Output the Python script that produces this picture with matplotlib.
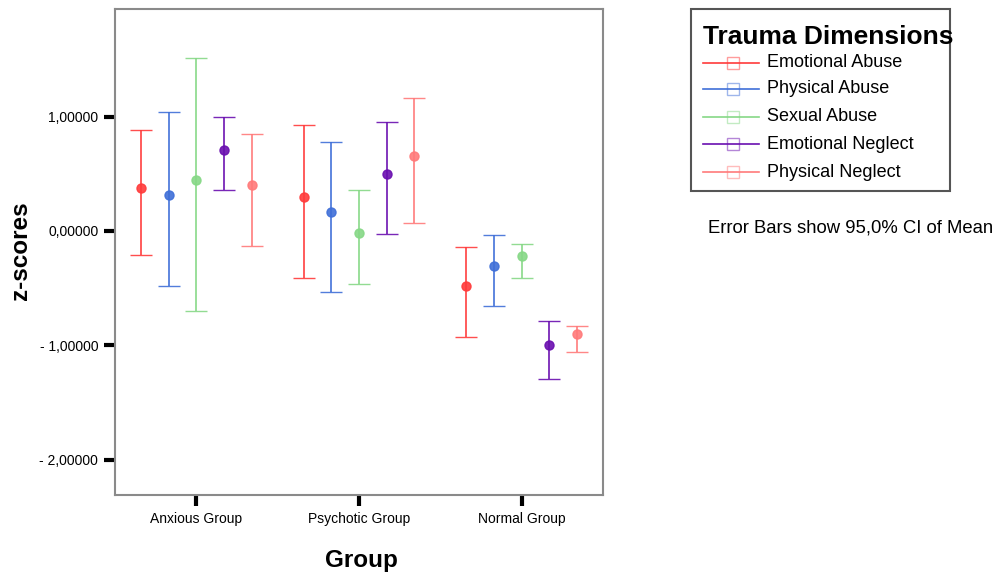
import matplotlib
matplotlib.use("Agg")
import matplotlib.pyplot as plt
from matplotlib.lines import Line2D
from matplotlib.patches import Rectangle
import numpy as np

plt.rcParams['font.family'] = ['Liberation Sans', 'DejaVu Sans']

groups = ["Anxious Group", "Psychotic Group", "Normal Group"]
series = ["Emotional Abuse", "Physical Abuse", "Sexual Abuse", "Emotional Neglect", "Physical Neglect"]
colors = ["#FF3B3B", "#3F6FD8", "#86D886", "#6A0FB0", "#FF7A7A"]

means = {
    "Emotional Abuse":   [0.379, 0.300, -0.481],
    "Physical Abuse":    [0.315, 0.169, -0.303],
    "Sexual Abuse":      [0.446, -0.017, -0.216],
    "Emotional Neglect": [0.711, 0.499, -0.997],
    "Physical Neglect":  [0.405, 0.659, -0.898],
}
upper = {
    "Emotional Abuse":   [0.881, 0.925, -0.140],
    "Physical Abuse":    [1.044, 0.776, -0.038],
    "Sexual Abuse":      [1.511, 0.359, -0.111],
    "Emotional Neglect": [0.997, 0.951, -0.787],
    "Physical Neglect":  [0.846, 1.161, -0.834],
}
lower = {
    "Emotional Abuse":   [-0.213, -0.408, -0.925],
    "Physical Abuse":    [-0.481, -0.537, -0.656],
    "Sexual Abuse":      [-0.697, -0.464, -0.408],
    "Emotional Neglect": [0.359, -0.023, -1.292],
    "Physical Neglect":  [-0.128, 0.067, -1.059],
}
yticks = [1.0, 0.0, -1.0, -2.0]
ytick_labels = ["1,00000", "0,00000", "- 1,00000", "- 2,00000"]

W, H = 1002, 574
fig = plt.figure(figsize=(W / 100, H / 100), dpi=100)
ax = fig.add_axes([115 / W, 1 - 495 / H, (603 - 115) / W, (495 - 9) / H])

xbase = np.arange(1, len(groups) + 1)
offsets = np.linspace(-0.34, 0.34, len(series))
for s, c, off in zip(series, colors, offsets):
    m = np.array(means[s]); u = np.array(upper[s]); l = np.array(lower[s])
    ax.errorbar(xbase + off, m, yerr=[m - l, u - m], fmt='o', color=c,
                ecolor=c, elinewidth=1.3, capsize=8, capthick=1.3,
                markersize=6.5, markeredgewidth=1.0, alpha=0.9)

ax.set_xlim(0.5, 3.5)
ax.set_ylim(-2.31, 1.942)
ax.set_xticks(xbase)
ax.set_xticklabels(groups, fontsize=10)
ax.set_yticks(yticks)
ax.set_yticklabels(ytick_labels, fontsize=10)
ax.tick_params(axis='both', direction='out', length=8, width=3, color='black', pad=4)
for sp in ax.spines.values():
    sp.set_color('#8a8a8a')
    sp.set_linewidth(1.5)

fig.text(361 / W, 1 - 560 / H, "Group", fontsize=17.5, fontweight='bold', ha='center', va='center')
fig.text(21 / W, 1 - 251 / H, "z-scores", fontsize=17.5, fontweight='bold', rotation=90, ha='center', va='center')

# legend drawn manually
lx0, lx1, ly0, ly1 = 691, 950, 9, 191
fig.patches.append(Rectangle((lx0 / W, 1 - ly1 / H), (lx1 - lx0) / W, (ly1 - ly0) / H,
                             transform=fig.transFigure, fill=False, edgecolor='#555555', linewidth=1.5))
fig.text(703 / W, 1 - 37 / H, "Trauma Dimensions", fontsize=19, fontweight='bold', ha='left', va='center')
entry_y = [62.7, 89, 116.7, 144.3, 172.3]
for s, c, yy in zip(series, colors, entry_y):
    fig.lines.append(Line2D([703 / W, 759 / W], [1 - yy / H, 1 - yy / H], transform=fig.transFigure,
                            color=c, linewidth=1.2))
    fig.lines.append(Line2D([733 / W], [1 - yy / H], transform=fig.transFigure, marker='s',
                            markersize=8.5, markerfacecolor='none', markeredgecolor=c, alpha=0.5,
                            linestyle='none'))
    fig.text(767 / W, 1 - yy / H, s, fontsize=13, ha='left', va='center')

fig.text(708 / W, 1 - 228 / H, "Error Bars show 95,0% CI of Mean", fontsize=13.3, ha='left', va='center')

fig.savefig("out.png", dpi=100)
